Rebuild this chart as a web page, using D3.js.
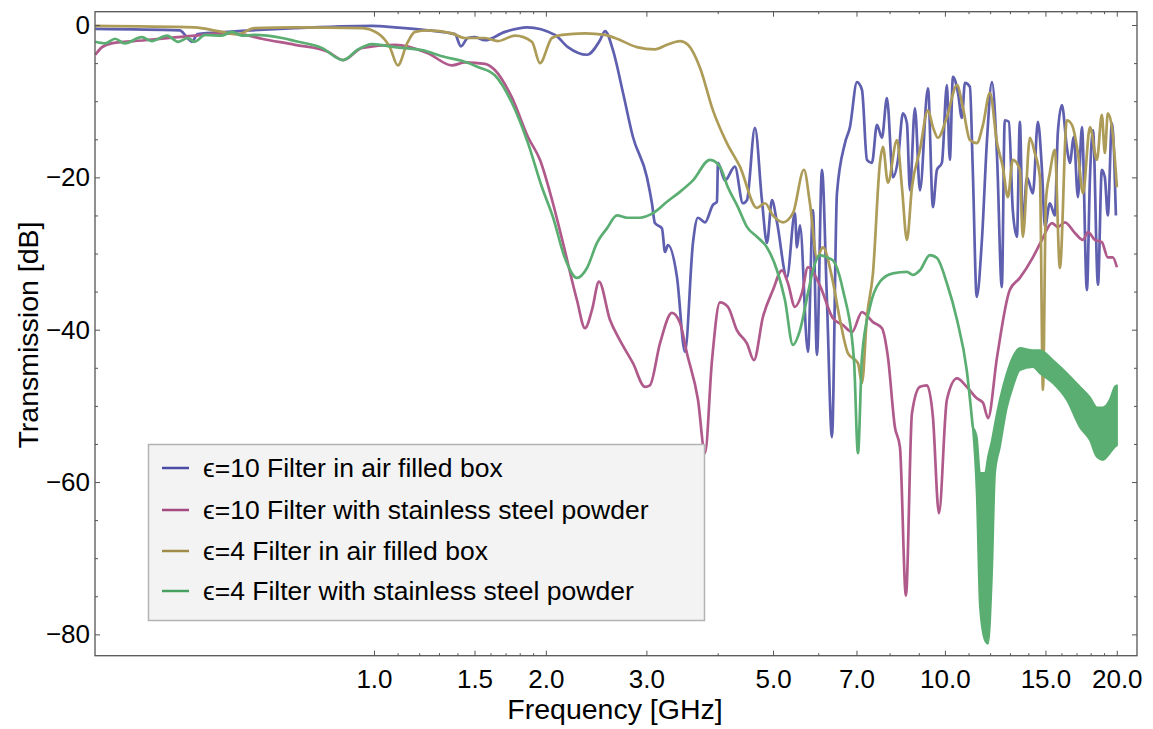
<!DOCTYPE html>
<html>
<head>
<meta charset="utf-8">
<script src="https://cdn.jsdelivr.net/npm/d3@7/dist/d3.min.js"></script>
<style>
  body { margin: 0; background: #fff; }
  text { font-family: "Liberation Sans", Arial, sans-serif; }
</style>
</head>
<body>
<div id="chart"></div>
<script>
// series data: [frequency GHz, transmission dB]
var eps10Air = [[0.325,-0.5],[0.457,-0.7],[0.468,-1.4],[0.480,-2.2],[0.491,-1.2],[0.555,-0.9],[0.727,-0.4],[0.992,-0.1],
  [1.088,-0.3],[1.243,-0.7],[1.386,-1.2],[1.420,-2.8],[1.460,-1.7],[1.502,-1.6],[1.564,-2.0],[1.696,-0.9],[1.854,-0.3],
  [2.075,-1.3],[2.186,-2.9],[2.361,-3.9],[2.488,-2.0],[2.539,-0.8],[2.622,-3.3],[2.730,-8.9],[2.842,-14.7],[3.007,-20.0],
  [3.068,-23.4],[3.105,-26.0],[3.195,-26.7],[3.234,-29.8],[3.273,-28.9],[3.394,-33.1],[3.505,-42.9],[3.620,-28.6],
  [3.694,-25.3],[3.800,-25.9],[3.924,-23.6],[3.988,-23.2],[4.004,-18.1],[4.118,-20.4],[4.287,-18.6],[4.428,-23.4],
  [4.500,-23.0],[4.648,-13.5],[4.781,-23.0],[4.879,-28.6],[4.978,-23.0],[5.080,-25.9],[5.288,-33.1],[5.461,-24.7],
  [5.506,-29.2],[5.573,-26.3],[5.756,-42.9],[5.873,-24.3],[5.969,-43.3],[6.090,-19.0],[6.214,-36.1],[6.341,-54.1],
  [6.470,-22.1],[6.683,-15.5],[6.818,-13.4],[7.014,-7.5],[7.157,-8.5],[7.302,-17.7],[7.451,-18.1],[7.603,-13.1],
  [7.757,-14.8],[7.915,-9.6],[8.109,-20.0],[8.274,-17.7],[8.443,-11.6],[8.580,-12.9],[8.684,-21.7],[8.861,-10.9],
  [9.042,-21.7],[9.339,-8.3],[9.529,-23.9],[9.684,-19.0],[9.879,-18.1],[10.08,-7.9],[10.20,-17.7],[10.33,-6.8],
  [10.54,-8.9],[10.71,-12.2],[10.84,-7.6],[11.06,-8.1],[11.19,-19.0],[11.37,-35.7],[11.61,-28.2],[11.85,-15.1],
  [12.09,-7.5],[12.34,-17.3],[12.58,-34.4],[12.73,-12.5],[12.94,-12.7],[13.15,-24.3],[13.37,-27.8],[13.53,-12.7],
  [13.69,-26.5],[13.92,-20.0],[14.26,-22.1],[14.55,-12.7],[14.79,-19.0],[14.97,-26.5],[15.27,-23.4],[15.58,-25.0],
  [15.77,-14.1],[16.03,-10.5],[16.35,-16.0],[16.55,-18.1],[16.82,-14.7],[17.10,-22.6],[17.38,-13.4],[17.73,-34.8],
  [17.95,-20.0],[18.17,-13.8],[18.54,-34.1],[18.83,-19.0],[19.06,-20.0],[19.29,-25.0],[19.61,-12.9],[19.93,-25.0]];

var eps10Steel = [[0.325,-3.9],[0.334,-2.9],[0.347,-2.4],[0.397,-2.0],[0.485,-1.4],[0.555,-1.1],[0.594,-1.3],[0.636,-1.8],
  [0.727,-2.6],[0.830,-3.5],[0.883,-4.6],[0.953,-3.0],[1.088,-2.6],[1.243,-3.7],[1.370,-5.3],[1.443,-4.9],[1.564,-5.1],
  [1.628,-5.9],[1.744,-9.5],[1.861,-14.7],[1.953,-17.7],[2.058,-23.4],[2.143,-28.6],[2.267,-36.1],[2.342,-39.8],
  [2.409,-37.4],[2.478,-33.7],[2.590,-38.7],[2.697,-41.4],[2.842,-44.4],[2.983,-47.5],[3.043,-47.3],[3.169,-41.8],
  [3.326,-37.8],[3.435,-39.1],[3.533,-43.1],[3.694,-49.2],[3.800,-56.2],[3.909,-44.0],[4.036,-36.4],[4.168,-37.0],
  [4.323,-40.1],[4.500,-41.8],[4.629,-44.0],[4.801,-38.3],[4.998,-34.8],[5.183,-32.2],[5.310,-33.9],[5.461,-37.0],
  [5.618,-35.2],[5.756,-31.8],[6.041,-34.2],[6.366,-38.5],[6.629,-39.4],[6.874,-40.3],[7.157,-37.7],[7.481,-39.0],
  [7.757,-39.8],[7.947,-43.6],[8.174,-52.8],[8.341,-55.4],[8.545,-74.9],[8.755,-51.0],[9.042,-47.5],[9.301,-47.3],
  [9.529,-51.5],[9.762,-64.1],[10.08,-49.2],[10.50,-46.4],[10.92,-47.5],[11.37,-49.0],[11.66,-49.6],[11.90,-51.6],
  [12.34,-43.6],[12.99,-34.8],[13.53,-33.2],[14.26,-30.5],[14.79,-28.2],[15.40,-26.0],[15.77,-26.5],[16.22,-25.9],
  [16.89,-27.3],[17.45,-28.2],[17.81,-27.2],[18.31,-28.2],[18.83,-28.5],[19.29,-30.5],[19.68,-30.5],[20.01,-31.8]];

var eps4Air = [[0.325,-0.1],[0.485,-0.3],[0.533,-0.8],[0.577,-1.2],[0.618,-0.4],[0.727,-0.3],[0.953,-0.4],[1.016,-1.1],
  [1.066,-2.9],[1.101,-5.3],[1.143,-2.4],[1.180,-0.9],[1.243,-0.7],[1.370,-1.1],[1.443,-1.7],[1.564,-1.7],[1.648,-2.1],
  [1.766,-1.4],[1.891,-2.2],[1.953,-5.0],[2.050,-1.7],[2.134,-1.3],[2.342,-1.1],[2.539,-1.3],[2.643,-1.7],[2.888,-2.9],
  [3.105,-3.2],[3.260,-2.6],[3.435,-2.1],[3.548,-2.6],[3.724,-5.6],[3.924,-11.2],[4.151,-15.5],[4.375,-18.6],
  [4.686,-24.0],[4.840,-23.4],[4.998,-25.0],[5.204,-25.9],[5.418,-24.7],[5.664,-19.0],[5.802,-23.4],[5.969,-30.5],
  [6.115,-29.2],[6.341,-33.1],[6.549,-38.7],[6.764,-43.1],[7.042,-44.4],[7.157,-47.0],[7.302,-38.3],[7.481,-32.6],
  [7.695,-18.1],[7.789,-16.0],[7.947,-20.7],[8.241,-15.1],[8.409,-21.3],[8.580,-28.2],[8.755,-21.3],[9.042,-16.4],
  [9.339,-11.2],[9.529,-13.4],[9.723,-14.8],[10.08,-12.1],[10.50,-7.9],[10.75,-10.8],[11.06,-15.1],[11.37,-15.5],
  [11.66,-13.1],[11.99,-8.9],[12.34,-15.5],[12.63,-18.6],[12.89,-22.6],[13.15,-17.7],[13.53,-19.0],[13.69,-27.8],
  [14.09,-14.8],[14.37,-16.8],[14.67,-20.0],[14.85,-47.9],[15.03,-23.0],[15.27,-19.4],[15.58,-16.4],[15.90,-31.9],
  [16.35,-12.5],[16.69,-13.1],[17.10,-16.8],[17.45,-22.1],[17.95,-13.4],[18.46,-17.7],[18.83,-11.8],[19.06,-16.8],
  [19.29,-11.6],[19.61,-13.4],[20.01,-21.3]];

var eps4Steel = [[0.325,-2.2],[0.338,-2.4],[0.352,-1.8],[0.366,-2.4],[0.392,-1.6],[0.408,-2.1],[0.434,-1.4],[0.454,-2.2],
  [0.472,-1.7],[0.485,-2.2],[0.506,-1.3],[0.541,-1.4],[0.564,-0.9],[0.587,-1.4],[0.618,-1.3],[0.690,-1.7],[0.727,-2.1],
  [0.810,-3.0],[0.883,-4.6],[0.938,-3.2],[0.992,-2.5],[1.088,-2.9],[1.214,-3.3],[1.332,-4.2],[1.425,-4.7],[1.520,-5.5],
  [1.628,-6.6],[1.744,-10.2],[1.861,-15.5],[1.969,-21.3],[2.058,-25.2],[2.160,-30.6],[2.267,-33.2],[2.361,-31.9],
  [2.458,-28.6],[2.559,-26.7],[2.665,-25.0],[2.774,-25.3],[2.923,-25.3],[3.080,-24.7],[3.260,-23.2],[3.435,-21.9],
  [3.620,-20.4],[3.877,-17.7],[4.036,-18.6],[4.168,-21.3],[4.340,-23.9],[4.500,-26.5],[4.686,-27.8],[4.879,-29.2],
  [5.080,-32.2],[5.246,-36.1],[5.418,-42.0],[5.573,-40.1],[5.756,-35.2],[5.873,-32.2],[6.041,-30.2],[6.214,-30.5],
  [6.366,-30.9],[6.629,-34.8],[6.930,-44.0],[7.042,-56.2],[7.157,-43.6],[7.391,-37.0],[7.695,-33.7],[8.109,-32.6],
  [8.580,-32.4],[8.789,-32.8],[9.042,-32.2],[9.414,-30.2],[9.684,-30.6],[10.08,-33.9],[10.50,-38.7],[10.92,-45.3],
  [11.19,-52.8]];

// noisy tail of the eps=4 steel trace: [frequency, upper dB, lower dB]
var eps4SteelNoise = [[11.19,-52.8,-52.8],[11.37,-54.1,-61.5],[11.52,-58.8,-76.4],[11.76,-58.8,-80.8],[11.90,-56.7,-81.2],
  [12.09,-54.5,-72.0],[12.24,-52.3,-58.8],[12.48,-49.2,-55.4],[12.84,-45.7,-50.2],[13.15,-43.6,-47.5],[13.53,-42.4,-45.3],
  [14.26,-42.7,-44.9],[14.67,-42.7,-45.7],[15.46,-44.0,-47.0],[16.35,-45.7,-49.2],[17.24,-47.5,-52.8],[17.95,-48.9,-54.5],
  [18.46,-50.2,-56.7],[18.91,-50.2,-57.1],[19.45,-49.2,-56.2],[19.84,-47.5,-55.4],[20.01,-47.3,-55.2]];

var seriesNames = ["\u03f5=10 Filter in air filled box", "\u03f5=10 Filter with stainless steel powder",
  "\u03f5=4 Filter in air filled box", "\u03f5=4 Filter with stainless steel powder"];
var seriesColors = ["#5f5fb0", "#b05a8c", "#ad9b58", "#5bae72"];
var legendColors = ["#4b4ba3", "#a44a80", "#9f8c48", "#48a060"];

var xMajor = [1, 1.5, 2, 3, 5, 7, 10, 15, 20];
var xMinor = [1.1, 1.2, 1.3, 1.4, 1.6, 1.7, 1.8, 1.9, 4, 6, 8, 9, 11, 12, 13, 14, 16, 17, 18, 19];
var yMajor = [0, -20, -40, -60, -80];
var yMinor = [-5, -10, -15, -25, -30, -35, -45, -50, -55, -65, -70, -75];

var W = 1153, H = 729;
var pLeft = 95, pRight = 1137, pTop = 11.7, pBottom = 655.7;

var svg = d3.select("#chart").append("svg")
  .attr("width", W).attr("height", H);

var x = d3.scaleLog().domain([0.3246, 21.7]).range([pLeft, pRight]);
var y = d3.scaleLinear().domain([-82.8, 1.75]).range([pBottom, pTop]);

// clip
svg.append("defs").append("clipPath").attr("id", "clip")
  .append("rect").attr("x", pLeft).attr("y", pTop).attr("width", pRight - pLeft).attr("height", pBottom - pTop);

var plot = svg.append("g").attr("clip-path", "url(#clip)");

var line = d3.line()
  .curve(d3.curveMonotoneX)
  .x(function(d) { return x(d[0]); })
  .y(function(d) { return y(d[1]); });

var all = [eps10Air, eps10Steel, eps4Air, eps4Steel];
all.forEach(function(s, i) {
  plot.append("path")
    .datum(s)
    .attr("d", line)
    .attr("fill", "none")
    .attr("stroke", seriesColors[i])
    .attr("stroke-width", 2.7)
    .attr("stroke-linejoin", "round");
});

// noise band of the green trace
var band = d3.area()
  .curve(d3.curveMonotoneX)
  .x(function(d) { return x(d[0]); })
  .y0(function(d) { return y(d[2]); })
  .y1(function(d) { return y(d[1]); });
plot.append("path")
  .datum(eps4SteelNoise)
  .attr("d", band)
  .attr("fill", seriesColors[3])
  .attr("stroke", seriesColors[3])
  .attr("stroke-width", 2)
  .attr("stroke-linejoin", "round");

// axes (ticks point inward)
var frameColor = "#555";
function styleAxis(g) {
  g.select(".domain").remove();
  g.selectAll(".tick line").attr("stroke", frameColor);
  g.selectAll("text").attr("fill", "#000").style("font-size", "26px")
    .style("font-family", "'Liberation Sans', Arial, sans-serif");
}
var fmtX = d3.format(".1f");
svg.append("g").attr("transform", "translate(0," + pBottom + ")")
  .call(d3.axisBottom(x).tickValues(xMajor).tickFormat(fmtX).tickSizeInner(-5).tickSizeOuter(0).tickPadding(14))
  .call(styleAxis);
svg.append("g").attr("transform", "translate(0," + pBottom + ")")
  .call(d3.axisBottom(x).tickValues(xMinor).tickFormat("").tickSizeInner(-2.5).tickSizeOuter(0))
  .call(styleAxis);
svg.append("g").attr("transform", "translate(0," + pTop + ")")
  .call(d3.axisTop(x).tickValues(xMajor).tickFormat("").tickSizeInner(-5).tickSizeOuter(0))
  .call(styleAxis);
svg.append("g").attr("transform", "translate(0," + pTop + ")")
  .call(d3.axisTop(x).tickValues(xMinor).tickFormat("").tickSizeInner(-2.5).tickSizeOuter(0))
  .call(styleAxis);

var fmtY = function(d) { return d < 0 ? "\u2212" + Math.abs(d) : String(d); };
svg.append("g").attr("transform", "translate(" + pLeft + ",0)")
  .call(d3.axisLeft(y).tickValues(yMajor).tickFormat(fmtY).tickSizeInner(-5).tickSizeOuter(0).tickPadding(5))
  .call(styleAxis);
svg.append("g").attr("transform", "translate(" + pLeft + ",0)")
  .call(d3.axisLeft(y).tickValues(yMinor).tickFormat("").tickSizeInner(-3).tickSizeOuter(0))
  .call(styleAxis);
svg.append("g").attr("transform", "translate(" + pRight + ",0)")
  .call(d3.axisRight(y).tickValues(yMajor).tickFormat("").tickSizeInner(-5).tickSizeOuter(0))
  .call(styleAxis);
svg.append("g").attr("transform", "translate(" + pRight + ",0)")
  .call(d3.axisRight(y).tickValues(yMinor).tickFormat("").tickSizeInner(-3).tickSizeOuter(0))
  .call(styleAxis);

// frame
svg.append("rect")
  .attr("x", pLeft).attr("y", pTop).attr("width", pRight - pLeft).attr("height", pBottom - pTop)
  .attr("fill", "none").attr("stroke", frameColor).attr("stroke-width", 1.3);

// axis labels
svg.append("text")
  .attr("x", 615).attr("y", 719)
  .attr("text-anchor", "middle")
  .style("font-size", "28.5px")
  .text("Frequency [GHz]");
svg.append("text")
  .attr("transform", "translate(38," + 335 + ") rotate(-90)")
  .attr("text-anchor", "middle")
  .style("font-size", "28.5px")
  .text("Transmission [dB]");

// legend
var legend = svg.append("g");
legend.append("rect")
  .attr("x", 148.5).attr("y", 444.5).attr("width", 556).attr("height", 176)
  .attr("fill", "#f3f3f3").attr("stroke", "#b3b3b3").attr("stroke-width", 1.5);
var rowY = [468, 510, 551, 591];
seriesNames.forEach(function(name, i) {
  legend.append("line")
    .attr("x1", 162).attr("x2", 189)
    .attr("y1", rowY[i]).attr("y2", rowY[i])
    .attr("stroke", legendColors[i]).attr("stroke-width", 2.5);
  legend.append("text")
    .attr("x", 203).attr("y", rowY[i])
    .attr("dy", "0.35em")
    .style("font-size", "26.5px")
    .text(name);
});
</script>
</body>
</html>
